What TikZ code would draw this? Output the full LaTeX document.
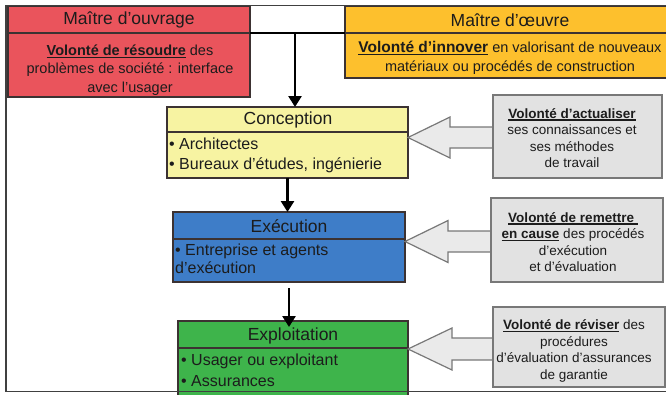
\documentclass[tikz,border=0pt]{standalone}
\usepackage{fontspec}
\setmainfont{Liberation Sans}
\usetikzlibrary{arrows.meta,calc}
\definecolor{redc}{RGB}{234,84,92}
\definecolor{orac}{RGB}{253,192,45}
\definecolor{yelc}{RGB}{247,243,162}
\definecolor{bluc}{RGB}{62,125,200}
\definecolor{grnc}{RGB}{62,180,75}
\definecolor{gryc}{RGB}{226,226,226}
\definecolor{garc}{RGB}{234,234,234}
\definecolor{grybd}{RGB}{120,120,120}
\definecolor{txtc}{RGB}{28,28,28}
\definecolor{bdc}{RGB}{60,50,50}
\newcommand\undl[1]{\setbox0\hbox{#1}\rlap{\rule[-2.4pt]{\wd0}{1.1pt}}\box0}
\begin{document}
\begin{tikzpicture}[x=1pt,y=-1pt,
  box/.style={draw=bdc,line width=1.2pt,inner sep=0pt,outer sep=0pt,anchor=north west},
  gbox/.style={draw=grybd,fill=gryc,line width=1.3pt,inner sep=0pt,outer sep=0pt,anchor=north west},
  hd/.style={text=txtc,font=\fontsize{17.5}{20}\selectfont,inner sep=0pt},
  bodyt/.style={text=txtc,font=\fontsize{14.5}{18.5}\selectfont,align=center,inner sep=0pt},
  bul/.style={text=txtc,font=\fontsize{16}{20}\selectfont,align=left,inner sep=0pt,anchor=west},
  gtxt/.style={text=txtc,font=\fontsize{13.5}{16.5}\selectfont,align=center,inner sep=0pt},
  blk/.style={line width=2.6pt,-{Triangle[length=11pt,width=13pt]}},
  garr/.style={draw=grybd,fill=garc,line width=1.2pt,line join=miter}]
\useasboundingbox (0,0) rectangle (666,394);
\clip (0,0) rectangle (666,394);
\fill[white] (0,0) rectangle (666,394);

% top boxes
\node[box,fill=redc,minimum width=242pt,minimum height=91pt] (mo) at (8,6) {};
\draw[bdc,line width=1.2pt] ([yshift=-27pt]mo.north west) -- ([yshift=-27pt]mo.north east);
\node[hd] (moh) at (129,20) {Maître d’ouvrage};
\node[bodyt] (mot) at (130,70) {{\bfseries\undl{Volonté de résoudre}} des\\problèmes de société : interface\\avec l’usager};

\node[box,fill=orac,minimum width=340pt,minimum height=72pt] (moe) at (345,6) {};
\draw[bdc,line width=1.2pt] ([yshift=-27pt]moe.north west) -- ([yshift=-27pt]moe.north east);
\node[hd] (moeh) at (510,20) {Maître d’œuvre};
\node[bodyt] (moet) at (510,58) {{\fontsize{15.5}{18.5}\selectfont\bfseries\undl{Volonté d’innover}} en valorisant de nouveaux\\matériaux ou procédés de construction};

% junction line and arrow
\coordinate (j) at (295,33);
\draw[line width=2.4pt] (mo.east |- j) -- (moe.west |- j);

% process boxes
\node[box,fill=yelc,minimum width=241pt,minimum height=71pt] (con) at (167,107) {};
\draw[bdc,line width=1.2pt] ([yshift=-25pt]con.north west) -- ([yshift=-25pt]con.north east);
\node[hd] (conh) at (288,120) {Conception};
\node[bul] (cont) at (169,155) {• Architectes\\• Bureaux d’études, ingénierie};

\node[box,fill=bluc,minimum width=232pt,minimum height=70pt] (exe) at (173,212) {};
\draw[bdc,line width=1.2pt] ([yshift=-27pt]exe.north west) -- ([yshift=-27pt]exe.north east);
\node[hd] (exeh) at (289,226) {Exécution};
\node[bul,font=\fontsize{16}{18}\selectfont] (exet) at (175,259) {• Entreprise et agents\\d’exécution};

\node[box,fill=grnc,minimum width=230pt,minimum height=75pt] (exp) at (178,321) {};
\draw[bdc,line width=1.2pt] ([yshift=-27pt]exp.north west) -- ([yshift=-27pt]exp.north east);
\node[hd] (exph) at (293,336) {Exploitation};
\node[bul,font=\fontsize{16}{21}\selectfont] (expt) at (181,370) {• Usager ou exploitant\\• Assurances};

% black arrows
\draw[blk] (j) -- (j |- con.north);
\draw[blk] (con.south) -- (con.south |- exe.north);
\draw[blk] ([yshift=-6pt]exe.south) -- ([yshift=-6pt]exe.south |- exp.north);

% gray boxes (positions)
\node[gbox,minimum width=169pt,minimum height=83pt] (g1) at (493,95) {};
\node[gbox,minimum width=172pt,minimum height=84pt] (g2) at (491,198) {};
\node[gbox,minimum width=172pt,minimum height=80pt] (g3) at (493,307) {};

% gray arrows
\coordinate (t1) at ([yshift=5pt]con.east);
\draw[garr] (t1) -- ++(42,-20.5) -- ++(0,10) -- ($(g1.west|-t1)+(0,-10.5)$) -- ($(g1.west|-t1)+(0,10.5)$) -- ($(t1)+(42,10.5)$) -- ++(0,10) -- cycle;
\coordinate (t2) at ([yshift=5.5pt]exe.east);
\draw[garr] (t2) -- ++(43,-21) -- ++(0,10.5) -- ($(g2.west|-t2)+(0,-10.5)$) -- ($(g2.west|-t2)+(0,10.5)$) -- ($(t2)+(43,10.5)$) -- ++(0,10.5) -- cycle;
\coordinate (t3) at ([yshift=9.5pt]exp.east);
\draw[garr] (t3) -- ++(44,-21) -- ++(0,10) -- ($(g3.west|-t3)+(0,-11)$) -- ($(g3.west|-t3)+(0,11)$) -- ($(t3)+(44,11)$) -- ++(0,10) -- cycle;

% redraw gray boxes over arrow ends
\node[gbox,minimum width=169pt,minimum height=83pt] (g1b) at (493,95) {};
\node[gbox,minimum width=172pt,minimum height=84pt] (g2b) at (491,198) {};
\node[gbox,minimum width=172pt,minimum height=80pt] (g3b) at (493,307) {};

\node[gtxt] (g1t) at (572,138) {{\bfseries\undl{Volonté d’actualiser}}\\ses connaissances et\\ses méthodes\\de travail};
\node[gtxt] (g2t) at (573,242) {{\bfseries\undl{Volonté de remettre\ }}\\{\bfseries\undl{en cause}} des procédés\\d’exécution\\et d’évaluation};
\node[gtxt] (g3t) at (574,351) {{\bfseries\undl{Volonté de réviser}} des\\procédures\\d’évaluation d’assurances\\de garantie};

% outer frame
\draw[black!75,line width=1.4pt] (6,5.5) rectangle (690,391.5);
\end{tikzpicture}
\end{document}
